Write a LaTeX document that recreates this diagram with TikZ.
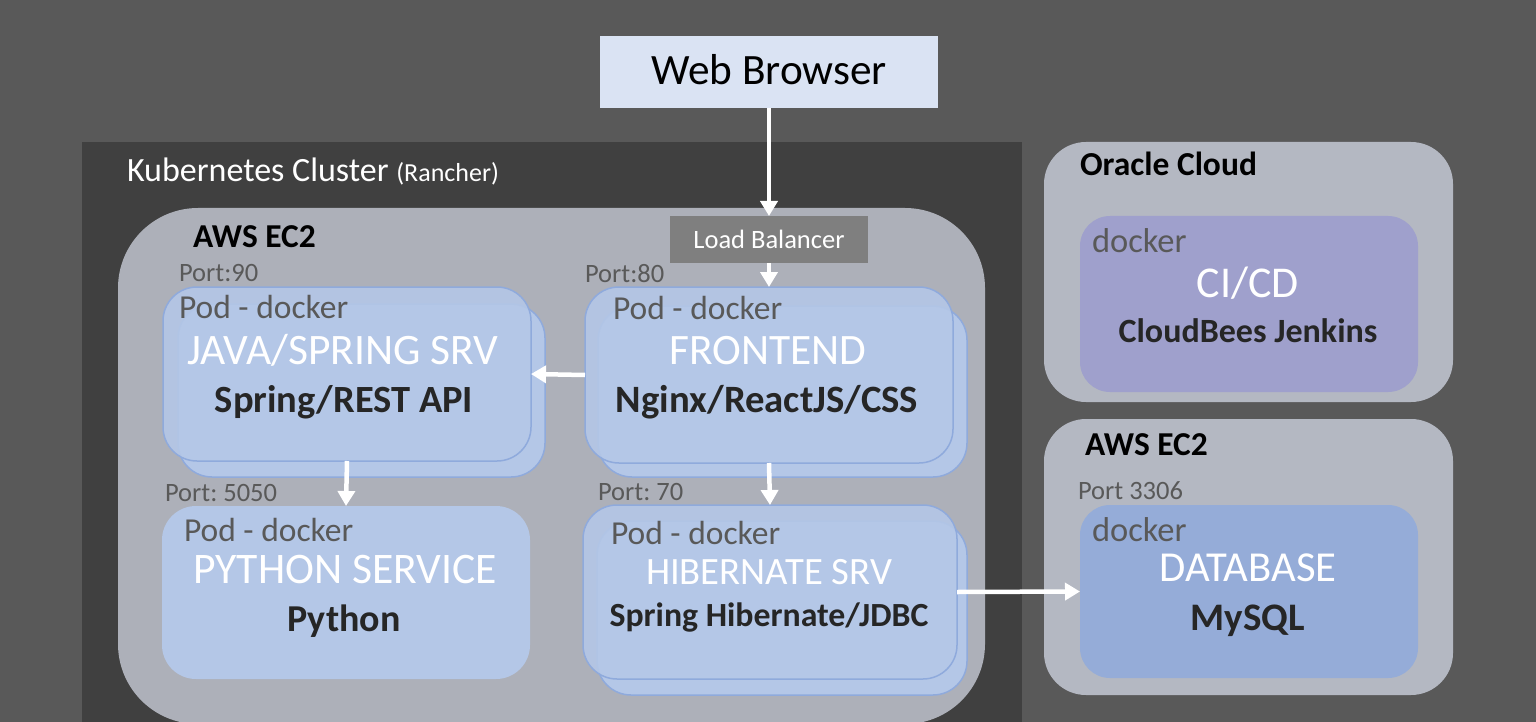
\documentclass[tikz,border=0pt]{standalone}
\usepackage{fontspec}
\setmainfont{Carlito}
\usetikzlibrary{arrows.meta}
\frenchspacing
\definecolor{bgc}{HTML}{595959}
\definecolor{k8s}{HTML}{404040}
\definecolor{awsc}{HTML}{ADB0B9}
\definecolor{cloudc}{HTML}{B4B8C2}
\definecolor{podc}{HTML}{B4C7E7}
\definecolor{podline}{HTML}{8FAADC}
\definecolor{webc}{HTML}{DAE3F3}
\definecolor{lbc}{HTML}{7F7F7F}
\definecolor{cicdc}{HTML}{9FA0CC}
\definecolor{dbc}{HTML}{95ACD8}
\definecolor{greytext}{HTML}{595959}
\definecolor{darktext}{HTML}{262626}
\tikzset{
  fs/.style={font=\fontsize{#1}{#1}\selectfont},
  fsb/.style={font=\fontsize{#1}{#1}\selectfont\bfseries},
  shape box/.style={draw=none, inner sep=0pt, outer sep=0pt, anchor=north west},
  podfront/.style={shape box, rectangle, rounded corners=34pt, fill=podc, fill opacity=0.9, draw=podline, line width=1.5pt},
  podback/.style={shape box, rectangle, rounded corners=34pt, fill=podc, draw=podline, line width=1.5pt},
  lbl/.style={inner sep=0pt, outer sep=0pt},
  porttxt/.style={lbl, fs=26.5, text=greytext, anchor=base west},
  podtxt/.style={lbl, fs=33.5, text=greytext, anchor=base west},
  titletxt/.style={lbl, text=white, anchor=base},
  subtxt/.style={lbl, text=darktext, anchor=base},
  arr/.style={draw=white, line width=4.5pt, -{Triangle[width=17pt,length=15pt,fill=white]}},
}
\begin{document}
\begin{tikzpicture}[x=1pt,y=-1pt]
\useasboundingbox (0,0) rectangle (1536,722);
% background
\fill[bgc] (0,0) rectangle (1536,722);
% Kubernetes cluster
\fill[k8s] (82,142) rectangle (1022,722);
\node[lbl, fs=34, text=white, anchor=base west] (k8slbl) at (127,182) {Kubernetes Cluster \fontsize{26}{26}\selectfont(Rancher)};
% AWS EC2 (left)
\begin{scope}
\clip (0,0) rectangle (1536,722);
\fill[awsc, rounded corners=80pt] (118,208) rectangle (985,724);
\end{scope}
\node[lbl, fsb=33.4, text=black, anchor=base west] (aws1lbl) at (193,247) {AWS EC2};

% Web browser & load balancer
\node[shape box, fill=webc, minimum width=338pt, minimum height=72pt] (web) at (600,36) {};
\node[lbl, fs=43.3, text=black, anchor=base] (weblbl) at (769,85) {Web Browser};
\node[shape box, fill=lbc, minimum width=198pt, minimum height=47pt] (lb) at (670,216) {};
\node[lbl, fs=26.5, text=white, anchor=base] (lblbl) at (769,248) {Load Balancer};

% Java pod
\node[podback, minimum width=367pt, minimum height=173pt] (javab) at (178,304) {};
\node[podfront, minimum width=368pt, minimum height=174pt] (java) at (163,287) {};
\node[porttxt] (p90) at (179,281) {Port:90};
\node[podtxt] (javapod) at (179,318) {Pod - docker};
\node[titletxt, fs=43.5] (javat) at (343,364) {JAVA/SPRING SRV};
\node[subtxt, fsb=38.5] (javas) at (344,412) {Spring/REST API};

% Frontend pod
\node[podback, minimum width=369pt, minimum height=171pt] (feb) at (598,306) {};
\node[podfront, minimum width=368pt, minimum height=176pt] (fe) at (585,287) {};
\node[porttxt] (p80) at (585,282) {Port:80};
\node[podtxt] (fepod) at (613,319) {Pod - docker};
\node[titletxt, fs=43.4] (fet) at (768,364) {FRONTEND};
\node[subtxt, fsb=38.7] (fes) at (767,412) {Nginx/ReactJS/CSS};

% Python pod
\node[shape box, rectangle, rounded corners=34pt, fill=podc, minimum width=368pt, minimum height=173pt] (py) at (162,506) {};
\node[porttxt] (p5050) at (165,501) {Port: 5050};
\node[podtxt] (pypod) at (184,541) {Pod - docker};
\node[titletxt, fs=43.6] (pyt) at (345,583) {PYTHON SERVICE};
\node[subtxt, fsb=38] (pys) at (344,631) {Python};

% Hibernate pod
\node[podback, minimum width=370pt, minimum height=174pt] (hibb) at (597,521) {};
\node[podfront, minimum width=374pt, minimum height=174pt] (hib) at (583,505) {};
\node[porttxt] (p70) at (598,500) {Port: 70};
\node[podtxt] (hibpod) at (611,544) {Pod - docker};
\node[titletxt, fs=38.7] (hibt) at (769,584) {HIBERNATE SRV};
\node[subtxt, fsb=33.8] (hibs) at (769,626) {Spring Hibernate/JDBC};

% Oracle Cloud
\node[shape box, rectangle, rounded corners=42pt, fill=cloudc, minimum width=409pt, minimum height=260pt] (oracle) at (1044,142) {};
\node[lbl, fsb=33.5, text=black, anchor=base west] (oraclelbl) at (1080,176) {Oracle Cloud};
\node[shape box, rectangle, rounded corners=30pt, fill=cicdc, minimum width=338pt, minimum height=176pt] (cicd) at (1080,216) {};
\node[podtxt, fs=34.5] (cicddock) at (1092,252) {docker};
\node[titletxt, fs=44] (cicdt) at (1248,297) {CI/CD};
\node[subtxt, fsb=34] (cicds) at (1248,342) {CloudBees Jenkins};

% AWS EC2 (right)
\node[shape box, rectangle, rounded corners=42pt, fill=cloudc, minimum width=409pt, minimum height=276pt] (aws2) at (1044,419) {};
\node[lbl, fsb=33.4, text=black, anchor=base west] (aws2lbl) at (1085,455) {AWS EC2};
\node[porttxt] (p3306) at (1078,499) {Port 3306};
\node[shape box, rectangle, rounded corners=30pt, fill=dbc, minimum width=338pt, minimum height=173pt] (db) at (1080,505) {};
\node[podtxt, fs=34.5] (dbdock) at (1092,541) {docker};
\node[titletxt, fs=42.7] (dbt) at (1248,581) {DATABASE};
\node[subtxt, fsb=39] (dbs) at (1248,630) {MySQL};

% Arrows
\draw[arr] (web.south) -- (lb.north);
\draw[arr] (lb.south) -- (fe.north);
\draw[arr] (fe.west) -- (java.east);
\draw[arr] (java.south) -- (py.north);
\draw[arr] (fe.south) -- (hib.north);
\draw[arr] (hib.east) -- (db.west);
\end{tikzpicture}
\end{document}
